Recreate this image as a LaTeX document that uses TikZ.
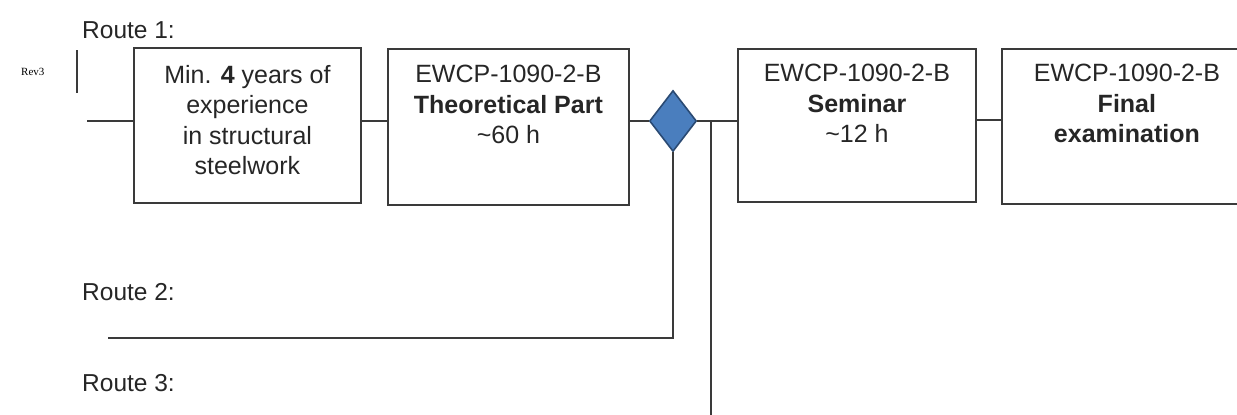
\documentclass[tikz,border=0pt]{standalone}
\usepackage{fontspec}
\setmainfont{Liberation Sans}
\newfontfamily\revfont{Liberation Serif}
\usetikzlibrary{shapes.geometric}
\definecolor{ln}{HTML}{3A3A3A}
\definecolor{dfill}{HTML}{4A7EBE}
\definecolor{dborder}{HTML}{2A4A73}
\tikzset{
  conn/.style={draw=ln, line width=1.6pt},
  stepbox/.style={draw=ln, line width=1.8pt, rectangle, inner sep=0pt, anchor=north west},
  boxtext/.style={anchor=north, align=center, inner sep=0pt, font=\fontsize{25}{30.5}\selectfont, text=black!85},
  routelbl/.style={anchor=west, inner sep=0pt, font=\fontsize{24.5}{28}\selectfont, text=black!85},
  decision/.style={diamond, draw=dborder, line width=1.6pt, fill=dfill, inner sep=0pt, minimum width=47pt, minimum height=61pt}
}
\begin{document}
\begin{tikzpicture}[x=1pt, y=-1pt]
\useasboundingbox (0,0) rectangle (1237,415);
% labels
\node[routelbl] (r1) at (82,30) {Route 1:};
\node[routelbl] (r2) at (82,292) {Route 2:};
\node[routelbl] (r3) at (82,383) {Route 3:};
\node[anchor=west, inner sep=0pt, font=\revfont\fontsize{11}{12}\selectfont] (rev) at (21,72) {Rev3};
\coordinate (barT) at (77,50);
\coordinate (barB) at (77,93);
\draw[draw=ln, line width=1.4pt] (barT) -- (barB);
% boxes
\node[stepbox, minimum width=227pt, minimum height=155pt] (b1) at (133,47) {};
\node[stepbox, minimum width=241pt, minimum height=156pt] (b2) at (387,48) {};
\node[stepbox, minimum width=238pt, minimum height=153pt] (b3) at (737,48) {};
\node[stepbox, minimum width=250pt, minimum height=155pt] (b4) at (1001,48) {};
\node[boxtext] (t1) at ([yshift=-18pt]b1.north) {Min. \textbf{4} years of\\experience\\in structural\\steelwork};
\node[boxtext] (t2) at ([yshift=-17pt]b2.north) {EWCP-1090-2-B\\\textbf{Theoretical Part}\\\textasciitilde60 h};
\node[boxtext] (t3) at ([yshift=-16pt]b3.north) {EWCP-1090-2-B\\\textbf{Seminar}\\\textasciitilde12 h};
\node[boxtext] (t4) at ([yshift=-16pt]b4.north) {EWCP-1090-2-B\\\textbf{Final}\\\textbf{examination}};
% decision
\node[decision] (d) at (673,121) {};
% connectors
\coordinate (start) at (87,121);
\coordinate (j) at (711,121);
\coordinate (jbot) at (711,416);
\coordinate (r2corner) at (673,338);
\coordinate (r2end) at (108,338);
\coordinate (r3end) at (92,416);
\draw[conn] (start) -- (b1.west |- start);
\draw[conn] (b1.east |- start) -- (b2.west |- start);
\draw[conn] (b2.east |- start) -- (d.west);
\draw[conn] (d.east) -- (b3.west |- d.east);
\draw[conn] (b3.east |- 0,120) -- (b4.west |- 0,120);
\draw[conn] (d.south) -- (r2corner) -- (r2end);
\draw[conn] (j) -- (jbot);
\draw[draw=ln!30, line width=1.6pt] (r3end) -- (jbot);
\end{tikzpicture}
\end{document}
